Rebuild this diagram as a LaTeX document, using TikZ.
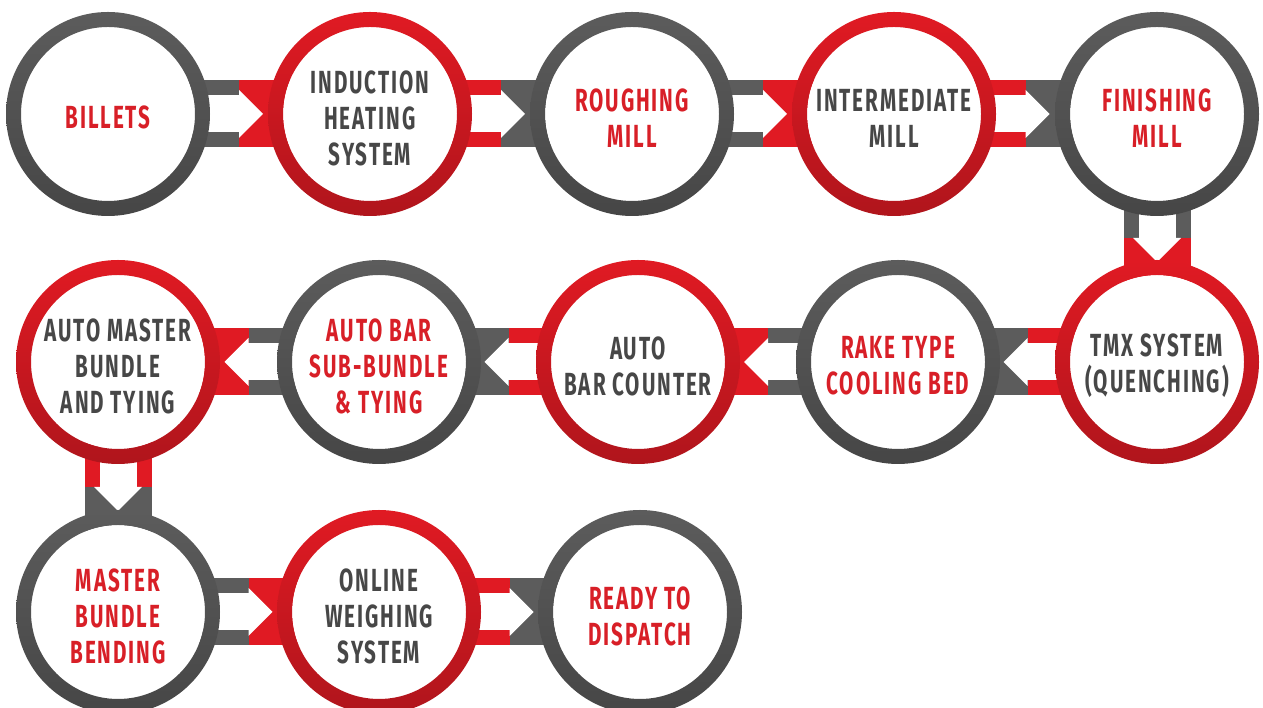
\documentclass[tikz,border=0pt]{standalone}
\usepackage{fontspec}
\newfontfamily\cf[FakeStretch=0.645,LetterSpace=6]{Fira Sans}
\usetikzlibrary{calc}
\pgfdeclarelayer{bg}\pgfdeclarelayer{fg}\pgfsetlayers{bg,main,fg}
\definecolor{rd}{HTML}{E01A23}
\definecolor{rdd}{HTML}{B0151C}
\definecolor{gy}{HTML}{5C5C5C}
\definecolor{gyd}{HTML}{464646}
\definecolor{txg}{HTML}{474747}
\definecolor{txr}{HTML}{D81F27}
\newcommand\link[5]{%
 \begin{pgfonlayer}{bg}
 \begin{scope}[shift={($(#1)!0.5!(#2)$)}, rotate=#5]
  \fill[#3] (-131,-33.5) rectangle (0.3,33.5);
  \fill[#4] (0,-33.5) rectangle (131,33.5);
  \fill[white] (-131,-18.5) rectangle (0.3,18.5);
  \fill[white] (0,-24) -- (24,0) -- (0,24) -- cycle;
 \end{scope}
 \end{pgfonlayer}}
\begin{document}
\begin{tikzpicture}[x=1pt,y=1pt,
  stage/.style={circle, fill=white, minimum size=174pt, inner sep=0pt},
  lbl/.style={inner sep=0pt, align=center, font=\cf\bfseries\fontsize{32}{36}\selectfont},
  rlbl/.style={lbl, text=txr},
  glbl/.style={lbl, text=txg}]
\useasboundingbox (0,0) rectangle (1263,708);
\node[stage] (n1) at (108,594) {};
\node[stage] (n2) at (370,594) {};
\node[stage] (n3) at (632,594) {};
\node[stage] (n4) at (894,594) {};
\node[stage] (n5) at (1157,594) {};
\node[stage] (n6) at (1157,346) {};
\node[stage] (n7) at (898,346) {};
\node[stage] (n8) at (638,346) {};
\node[stage] (n9) at (379,346) {};
\node[stage] (n10) at (118,346) {};
\node[stage] (n11) at (118,96) {};
\node[stage] (n12) at (379,96) {};
\node[stage] (n13) at (640,96) {};
\node[rlbl] (t1) at ($(n1)+(0,-3)$) {BILLETS};
\node[glbl] (t2) at ($(n2)+(0,-4)$) {INDUCTION\\HEATING\\SYSTEM};
\node[rlbl] (t3) at ($(n3)+(0,-4)$) {ROUGHING\\MILL};
\node[glbl] (t4) at ($(n4)+(0,-4)$) {INTERMEDIATE\\MILL};
\node[rlbl] (t5) at ($(n5)+(0,-4)$) {FINISHING\\MILL};
\node[glbl] (t6) at ($(n6)+(0,-4)$) {TMX SYSTEM\\(QUENCHING)};
\node[rlbl] (t7) at ($(n7)+(0,-4)$) {RAKE TYPE\\COOLING BED};
\node[glbl] (t8) at ($(n8)+(0,-4)$) {AUTO\\BAR COUNTER};
\node[rlbl] (t9) at ($(n9)+(0,-4)$) {AUTO BAR\\SUB-BUNDLE\\\& TYING};
\node[glbl] (t10) at ($(n10)+(0,-4)$) {AUTO MASTER\\BUNDLE\\AND TYING};
\node[rlbl] (t11) at ($(n11)+(0,-4)$) {MASTER\\BUNDLE\\BENDING};
\node[glbl] (t12) at ($(n12)+(0,-4)$) {ONLINE\\WEIGHING\\SYSTEM};
\node[rlbl] (t13) at ($(n13)+(0,-4)$) {READY TO\\DISPATCH};
\foreach \n/\a/\b in {n1/gy/gyd,n2/rd/rdd,n3/gy/gyd,n4/rd/rdd,n5/gy/gyd,n6/rd/rdd,n7/gy/gyd,
  n8/rd/rdd,n9/gy/gyd,n10/rd/rdd,n11/gy/gyd,n12/rd/rdd,n13/gy/gyd}{
  \begin{pgfonlayer}{fg}
  \shade[top color=\a, middle color=\a, bottom color=\b, even odd rule]
    (\n.center) circle[radius=102] (\n.center) circle[radius=87];
  \end{pgfonlayer}}
\link{n1}{n2}{gy}{rd}{0}
\link{n2}{n3}{rd}{gy}{0}
\link{n3}{n4}{gy}{rd}{0}
\link{n4}{n5}{rd}{gy}{0}
\link{n5}{n6}{gy}{rd}{-90}
\link{n6}{n7}{rd}{gy}{180}
\link{n7}{n8}{gy}{rd}{180}
\link{n8}{n9}{rd}{gy}{180}
\link{n9}{n10}{gy}{rd}{180}
\link{n10}{n11}{rd}{gy}{-90}
\link{n11}{n12}{gy}{rd}{0}
\link{n12}{n13}{rd}{gy}{0}
\end{tikzpicture}
\end{document}
